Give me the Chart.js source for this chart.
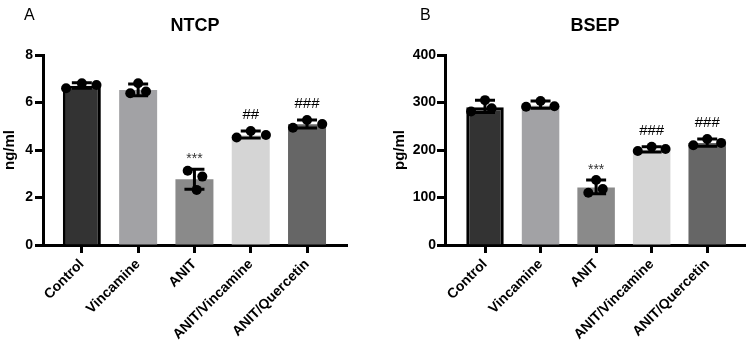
<!DOCTYPE html>
<html><head><meta charset="utf-8">
<script src="https://cdn.jsdelivr.net/npm/chart.js@4.4.1/dist/chart.umd.min.js"></script>
<style>
html,body{margin:0;padding:0;background:#fff;}
#wrap{position:relative;width:750px;height:347px;background:#fff;}
.panel{position:absolute;top:0;width:375px;height:347px;}
</style></head><body>
<div id="wrap">
<div class="panel" style="left:0"><canvas id="c1" width="375" height="347"></canvas></div>
<div class="panel" style="left:375px"><canvas id="c2" width="375" height="347"></canvas></div>
</div>
<script>
const categories = ['Control','Vincamine','ANIT','ANIT/Vincamine','ANIT/Quercetin'];
const barColors = ['#333333','#a2a2a5','#8a8a8a','#d5d5d5','#666666'];

// NTCP (ng/ml)
const ntcpMeans   = [6.71, 6.53, 2.77, 4.62, 5.08];
const ntcpPoints  = [[6.60,6.81,6.74],[6.39,6.81,6.46],[3.13,2.88,2.32],[4.53,4.80,4.63],[4.94,5.26,5.09]];
const ntcpErrLow  = [6.60, 6.28, 2.35, 4.51, 4.93];
const ntcpErrHigh = [6.83, 6.78, 3.19, 4.80, 5.26];
const ntcpMarks   = ['', '', '***', '##', '###'];
const ntcpTicks   = [0, 2, 4, 6, 8];

// BSEP (pg/ml)
const bsepMeans   = [290, 293, 121, 201, 215];
const bsepPoints  = [[281,305,288],[291,303,292],[110,118,137],[198,207,202],[210,223,215]];
const bsepErrLow  = [279, 288, 108, 196, 208];
const bsepErrHigh = [305, 303, 137, 207, 223];
const bsepMarks   = ['', '', '***', '###', '###'];
const bsepTicks   = [0, 100, 200, 300, 400];

// horizontal scatter of replicate dots (category units)
const ntcpJitter = [[-0.28,0,0.26],[-0.14,0,0.14],[-0.12,0.14,0.04],[-0.25,0,0.27],[-0.25,0,0.27]];
const bsepJitter = [[-0.25,0,0.12],[-0.26,0,0.25],[-0.14,0.12,0],[-0.25,0,0.25],[-0.25,0,0.25]];

const FONT = 'Liberation Sans, Arial, Helvetica, sans-serif';

function build(canvasId, cfg) {
  const barData = cfg.means.map((v, i) => ({x: i, y: v}));
  const dotData = [];
  cfg.points.forEach((arr, i) => arr.forEach((v, k) => dotData.push({x: i + cfg.jitter[i][k], y: v})));

  const decor = {
    id: 'decor',
    afterDatasetDraw(chart, args) {
      if (args.index !== 0) return;
      const ctx = chart.ctx, xs = chart.scales.x, ys = chart.scales.y;
      ctx.save();
      ctx.strokeStyle = '#000';
      ctx.lineWidth = 3;
      ctx.lineCap = 'butt';
      cfg.errLow.forEach((lo, i) => {
        const x = xs.getPixelForValue(i);
        const yl = ys.getPixelForValue(lo), yh = ys.getPixelForValue(cfg.errHigh[i]);
        ctx.beginPath();
        ctx.moveTo(x, yl); ctx.lineTo(x, yh);
        ctx.moveTo(x - 10, yh); ctx.lineTo(x + 10, yh);
        ctx.moveTo(x - 10, yl); ctx.lineTo(x + 10, yl);
        ctx.stroke();
      });
      ctx.restore();
    },
    afterDraw(chart) {
      const ctx = chart.ctx, xs = chart.scales.x, ys = chart.scales.y, ca = chart.chartArea;
      ctx.save();
      ctx.strokeStyle = '#000'; ctx.lineWidth = 3;
      ctx.beginPath();
      ctx.moveTo(ca.left - 8, Math.round(ca.bottom) + 0.5);
      ctx.lineTo(ca.left, Math.round(ca.bottom) + 0.5);
      ctx.stroke();
      ctx.fillStyle = '#000';
      ctx.font = '16px ' + FONT;
      ctx.textAlign = 'left'; ctx.textBaseline = 'alphabetic';
      ctx.fillText(cfg.letter, cfg.letterX, 20);
      ctx.font = 'bold 18px ' + FONT;
      ctx.textAlign = 'center'; ctx.textBaseline = 'middle';
      ctx.fillText(cfg.title, (ca.left + ca.right) / 2, 26);
      ctx.textBaseline = 'alphabetic';
      cfg.marks.forEach((m, i) => {
        if (!m) return;
        const x = xs.getPixelForValue(i);
        const y = ys.getPixelForValue(cfg.errHigh[i]);
        const star = m.startsWith('*');
        ctx.font = (star ? '14px ' : '15px ') + FONT;
        ctx.fillStyle = star ? '#333' : '#000';
        ctx.fillText(m, x, y - (star ? 6 : 12));
      });
      ctx.restore();
    }
  };

  new Chart(document.getElementById(canvasId), {
    type: 'bar',
    data: {
      datasets: [
        {
          type: 'bar', data: barData, order: 2,
          backgroundColor: barColors,
          borderColor: ['#000', 'rgba(0,0,0,0)', 'rgba(0,0,0,0)', 'rgba(0,0,0,0)', 'rgba(0,0,0,0)'],
          borderWidth: [3, 0, 0, 0, 0],
          borderSkipped: 'start',
          categoryPercentage: 1.0, barPercentage: 0.675
        },
        {
          type: 'scatter', data: dotData, order: 1,
          pointRadius: 5, pointBackgroundColor: '#000', pointBorderColor: '#000', pointBorderWidth: 0
        }
      ]
    },
    options: {
      responsive: false, animation: false, devicePixelRatio: 1,
      layout: {padding: {top: 55, right: cfg.padRight, bottom: 0, left: 0}},
      plugins: {legend: {display: false}, tooltip: {enabled: false}, title: {display: false}},
      scales: {
        x: {
          type: 'linear', min: cfg.xmin, max: cfg.xmax, offset: false,
          afterBuildTicks: s => { s.ticks = categories.map((c, i) => ({value: i})); },
          afterFit: s => { s.height = 102; },
          ticks: {
            callback: v => categories[v], autoSkip: false, maxRotation: 45, minRotation: 45,
            color: '#000', font: {family: FONT, weight: 'bold', size: 14}, padding: 3
          },
          grid: {drawOnChartArea: false, drawTicks: true, tickLength: 8, tickWidth: 3, tickColor: '#000', offset: false},
          border: {display: true, color: '#000', width: 3}
        },
        y: {
          min: 0, max: cfg.ymax,
          afterBuildTicks: s => { s.ticks = cfg.ticks.map(v => ({value: v})); },
          afterFit: s => { s.width = cfg.yWidth; },
          ticks: {color: '#000', font: {family: FONT, weight: 'bold', size: 14}, padding: cfg.tickPad},
          grid: {drawOnChartArea: false, drawTicks: true, tickLength: 8, tickWidth: 3, tickColor: '#000'},
          border: {display: true, color: '#000', width: 3},
          title: {display: true, text: cfg.yTitle, color: '#000', font: {family: FONT, weight: 'bold', size: 15}, padding: {top: cfg.titlePad, bottom: 0}}
        }
      }
    },
    plugins: [decor]
  });
}

build('c1', {
  means: ntcpMeans, points: ntcpPoints, jitter: ntcpJitter, errLow: ntcpErrLow, errHigh: ntcpErrHigh,
  marks: ntcpMarks, ticks: ntcpTicks, ymax: 8, yTitle: 'ng/ml', title: 'NTCP', letter: 'A', letterX: 24,
  xmin: -0.69, xmax: 4.71, padRight: 28, yWidth: 43, tickPad: 2, titlePad: 1
});
build('c2', {
  means: bsepMeans, points: bsepPoints, jitter: bsepJitter, errLow: bsepErrLow, errHigh: bsepErrHigh,
  marks: bsepMarks, ticks: bsepTicks, ymax: 400, yTitle: 'pg/ml', title: 'BSEP', letter: 'B', letterX: 45,
  xmin: -0.72, xmax: 4.68, padRight: 2, yWidth: 70, tickPad: 1, titlePad: 16
});
</script>
</body></html>
